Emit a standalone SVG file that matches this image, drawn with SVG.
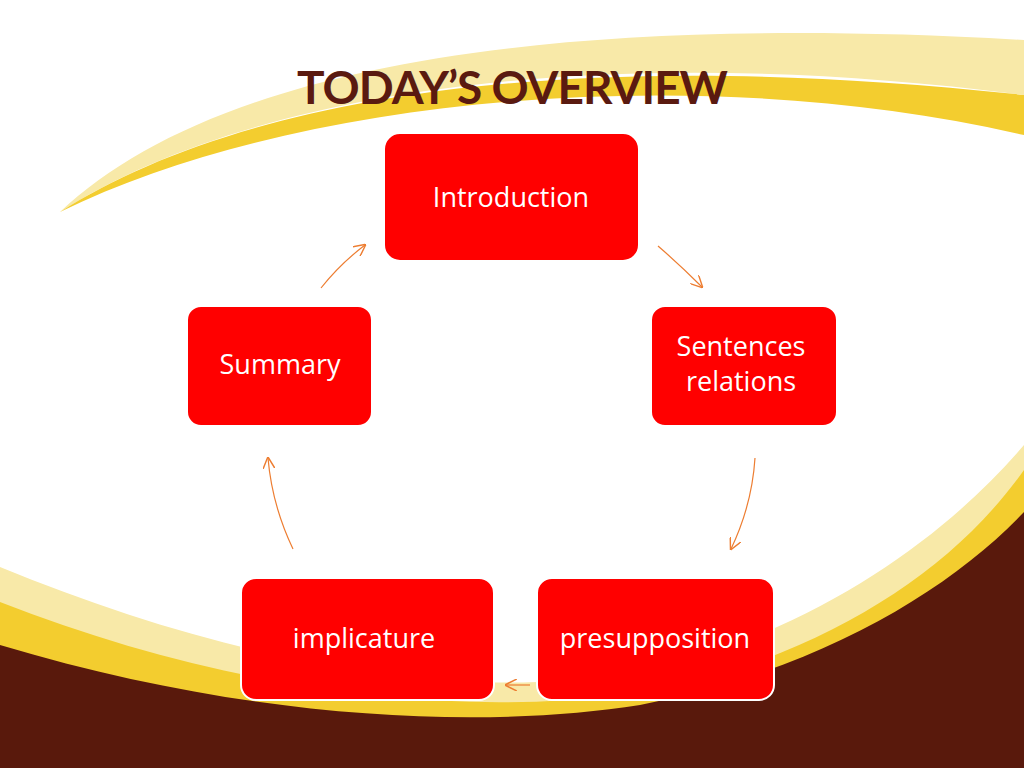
<svg xmlns="http://www.w3.org/2000/svg" width="1024" height="768" viewBox="0 0 1024 768">
<defs>
<style>
.node rect{fill:#ff0000;stroke:#fff;stroke-width:2}
.node text{fill:#fff;font-family:"Open Sans","Liberation Sans",sans-serif;font-size:27px;text-anchor:middle}
.conn path{fill:none;stroke:#ed7d31;stroke-width:1.2;marker-end:url(#ah)}
</style>
<marker id="ah" viewBox="0 0 10 10" refX="9" refY="5" markerWidth="12" markerHeight="12" orient="auto" markerUnits="userSpaceOnUse"><path d="M0,0 L10,5 L0,10" fill="none" stroke="#ed7d31" stroke-width="1.2"/></marker>
</defs>
<rect width="1024" height="768" fill="#fff"/>
<!-- top swoosh -->
<path d="M60,212 C200,80 500,10 1024,40 L1024,95 C600,40 250,90 60,212 Z" fill="#f8e9a8"/>
<path d="M60,212 C220,110 520,40 1024,95 L1024,135 C700,60 300,95 60,212 Z" fill="#f3cd2f"/>
<!-- bottom swoosh -->
<path d="M0,567 C250,670 520,720 720,650 C860,600 960,520 1024,445 L1024,768 L0,768 Z" fill="#f8e9a8"/>
<path d="M0,602 C250,700 520,730 720,675 C860,630 960,560 1024,470 L1024,768 L0,768 Z" fill="#f3cd2f"/>
<path d="M0,645 C250,720 480,730 640,705 C820,670 950,590 1024,512 L1024,768 L0,768 Z" fill="#59190c"/>
<text x="512" y="104" font-family="Lato,'Liberation Sans',sans-serif" font-weight="bold" font-size="46" fill="#5a1a10" text-anchor="middle" letter-spacing="-1">TODAY’S OVERVIEW</text>
<g class="conn">
<path d="M658,246 Q680,265 702,287"/>
<path d="M755,458 Q752,505 731,549"/>
<path d="M530,685 L506,685"/>
<path d="M293,549 Q272,505 268,458"/>
<path d="M321,288 Q340,264 365,245"/>
</g>
<g id="introduction" class="node"><rect x="384" y="133" width="255" height="128" rx="16"/><text x="511" y="207">Introduction</text></g>
<g id="sentences" class="node"><rect x="651" y="306" width="186" height="120" rx="14"/><text x="741" y="356" font-size="26">Sentences</text><text x="741" y="391" font-size="26">relations</text></g>
<g id="presupposition" class="node"><rect x="537" y="578" width="237" height="122" rx="15"/><text x="655" y="648">presupposition</text></g>
<g id="implicature" class="node"><rect x="241" y="578" width="253" height="122" rx="15"/><text x="364" y="648">implicature</text></g>
<g id="summary" class="node"><rect x="187" y="306" width="185" height="120" rx="14"/><text x="280" y="374">Summary</text></g>
</svg>
